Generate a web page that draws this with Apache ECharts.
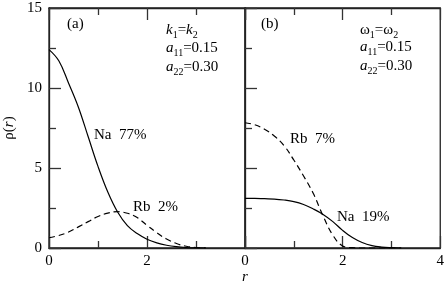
<!DOCTYPE html>
<html><head><meta charset="utf-8">
<script src="https://cdn.jsdelivr.net/npm/echarts@6/dist/echarts.min.js"></script>
<style>html,body{margin:0;padding:0;background:#fff}#c{width:447px;height:284px}</style>
</head><body><div id="c"></div>
<script>
// ---- data ----
const rA = [0,0.2,0.4,0.6,0.8,1.0,1.2,1.4,1.6,1.8,2.0,2.2,2.4,2.6,2.8,3.0,3.2];
const naA = [12.4,11.7,10.3,8.8,6.95,5.1,3.5,2.25,1.4,0.9,0.55,0.32,0.17,0.08,0.03,0.01,0];
const rbA = [0.64,0.78,1.0,1.32,1.65,1.97,2.18,2.27,2.17,1.9,1.42,0.95,0.56,0.28,0.11,0.03,0];
const rB = [0,0.2,0.4,0.6,0.8,1.0,1.2,1.4,1.6,1.8,2.0,2.2,2.4,2.6,2.8,3.0,3.2];
const naB = [3.1,3.1,3.08,3.06,3.0,2.9,2.72,2.44,2.1,1.65,1.1,0.65,0.34,0.15,0.06,0.02,0];
const rbB = [7.83,7.7,7.42,7.0,6.4,5.5,4.5,3.4,2.0,0.8,0.13,0.02,0,0,0,0,0];
const xTicks = [0,2,4];
const yTicks = [0,5,10,15];

const FONT = '"Liberation Serif", "Times New Roman", serif';
const pair = (xs, ys) => xs.map((x,i)=>[x, ys[i]]);

const chart = echarts.init(document.getElementById('c'), null, {renderer:'canvas'});

const ctx = document.createElement('canvas').getContext('2d');
function eq(x, y, parts) {
  const els = [];
  let cx = x;
  parts.forEach(p => {
    const size = p.s ? 10 : 15;
    const font = (p.i ? 'italic ' : '') + size + 'px ' + FONT;
    ctx.font = font;
    const w = ctx.measureText(p.t).width;
    els.push({type:'text', x: cx, y: p.s ? y + 5 : y,
      style:{text:p.t, font:font, fill:'#000', align:'left', verticalAlign:'middle'}});
    cx += w;
  });
  return els;
}
function txt(x, y, t) {
  return {type:'text', x:x, y:y, style:{text:t, font:'15px ' + FONT, fill:'#000', align:'left', verticalAlign:'middle'}};
}

const tickStyle = {color:'#333', width:1.3};
function xAx(gi, pos, labels, showMax) {
  return {type:'value', gridIndex:gi, position:pos, min:0, max:4, interval:2,
    axisLine:{show:true, onZero:false, lineStyle:{color:'#222', width:1.3}}, splitLine:{show:false},
    axisTick:{show:true, inside:true, length:12, lineStyle:tickStyle},
    minorTick:{show:true, splitNumber:2, length:7, lineStyle:tickStyle},
    axisLabel:{show:labels, showMaxLabel:showMax, margin:6, color:'#000', fontFamily:FONT, fontSize:15}};
}
function yAx(gi, labels) {
  return {type:'value', gridIndex:gi, position:'left', min:0, max:15, interval:5,
    axisLine:{show:true, onZero:false, lineStyle:{color:'#222', width:1.3}}, splitLine:{show:false},
    axisTick:{show:true, inside:true, length:12, lineStyle:tickStyle},
    minorTick:{show:true, splitNumber:2, length:7, lineStyle:tickStyle},
    axisLabel:{show:labels, margin:7, color:'#000', fontFamily:FONT, fontSize:15},
    name: labels ? '{n|ρ(}{i|r}{n|)}' : '', nameLocation:'middle', nameRotate:90, nameGap:32,
    nameTextStyle:{rich:{n:{fontFamily:FONT, fontSize:15, color:'#000'}, i:{fontFamily:FONT, fontSize:15, fontStyle:'italic', color:'#000'}}}};
}
function line(xi, yi, data, dashed) {
  return {type:'line', xAxisIndex:xi, yAxisIndex:yi, data:data, symbol:'none', smooth:0.4,
    lineStyle:{color:'#000', width:1.2, type: dashed ? [6,4] : 'solid'}, silent:true, animation:false};
}

const graphics = [].concat(
  [txt(67, 24, '(a)'), txt(261, 24, '(b)')],
  eq(166, 30, [{t:'k',i:1},{t:'1',s:1},{t:'='},{t:'k',i:1},{t:'2',s:1}]),
  eq(166, 48, [{t:'a',i:1},{t:'11',s:1},{t:'=0.15'}]),
  eq(166, 67, [{t:'a',i:1},{t:'22',s:1},{t:'=0.30'}]),
  eq(360, 30, [{t:'ω'},{t:'1',s:1},{t:'='},{t:'ω'},{t:'2',s:1}]),
  eq(360, 47, [{t:'a',i:1},{t:'11',s:1},{t:'=0.15'}]),
  eq(360, 66, [{t:'a',i:1},{t:'22',s:1},{t:'=0.30'}]),
  [txt(94, 135, 'Na  77%'), txt(133, 207, 'Rb  2%'), txt(290, 139, 'Rb  7%'), txt(337, 217, 'Na  19%')],
  [{type:'text', x:245, y:277, style:{text:'r', font:'italic 15px ' + FONT, fill:'#000', align:'center', verticalAlign:'middle'}}]
);

chart.setOption({
  animation:false,
  backgroundColor:'#fff',
  grid:[
    {left:49, top:8, width:196, height:240, show:true, borderColor:'#222', borderWidth:1.3, backgroundColor:'transparent'},
    {left:245, top:8, width:196, height:240, show:true, borderColor:'#222', borderWidth:1.3, backgroundColor:'transparent'}
  ],
  xAxis:[xAx(0,'bottom',true,false), xAx(0,'top',false,false), xAx(1,'bottom',true,true), xAx(1,'top',false,false)],
  yAxis:[yAx(0,true), yAx(1,false)],
  series:[
    line(0,0,pair(rA,naA),false),
    line(0,0,pair(rA,rbA),true),
    line(2,1,pair(rB,naB),false),
    line(2,1,pair(rB,rbB),true)
  ],
  graphic: graphics
});
</script>
</body></html>
